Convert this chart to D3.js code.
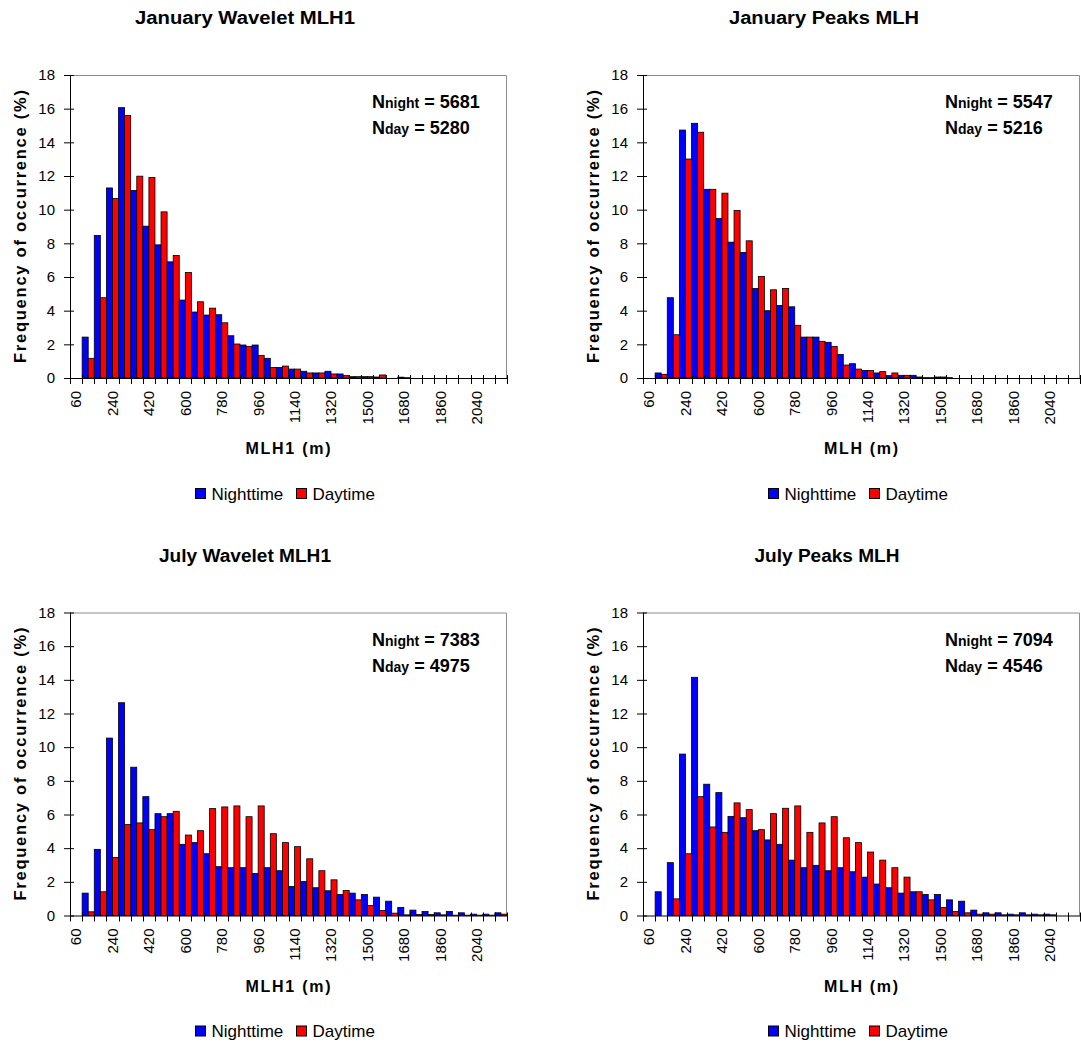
<!DOCTYPE html>
<html>
<head>
<meta charset="utf-8">
<script src="https://cdn.jsdelivr.net/npm/d3@7"></script>
<style>
  body { margin: 0; background: #fff; }
  svg { display: block; font-family: "Liberation Sans", Arial, sans-serif; }
</style>
</head>
<body>
<div id="chart"></div>
<script>
// MLH bin labels (m)
const categories = [60, 120, 180, 240, 300, 360, 420, 480, 540, 600, 660, 720,
  780, 840, 900, 960, 1020, 1080, 1140, 1200, 1260, 1320, 1380, 1440,
  1500, 1560, 1620, 1680, 1740, 1800, 1860, 1920, 1980, 2040, 2100, 2160];

const yTicks = [0, 2, 4, 6, 8, 10, 12, 14, 16, 18];

// January, wavelet MLH1
const janWaveletNight = [0, 2.43, 8.47, 11.29, 16.06, 11.14, 9.02, 7.91, 6.90, 4.63, 3.92, 3.74,
  3.76, 2.51, 1.96, 1.96, 1.17, 0.63, 0.53, 0.40, 0.30, 0.40, 0.24, 0.08,
  0.08, 0.06, 0, 0.05, 0, 0, 0, 0, 0, 0, 0, 0];
const janWaveletDay = [0, 1.17, 4.77, 10.66, 15.59, 11.99, 11.91, 9.87, 7.28, 6.27, 4.53, 4.15,
  3.28, 2.02, 1.88, 1.34, 0.63, 0.71, 0.53, 0.30, 0.30, 0.24, 0.14, 0.08,
  0.08, 0.18, 0, 0.02, 0, 0, 0, 0, 0, 0, 0, 0];

// January, peaks MLH
const janPeaksNight = [0, 0.30, 4.77, 14.73, 15.13, 11.21, 9.47, 8.07, 7.46, 5.32, 4.00, 4.31,
  4.23, 2.43, 2.43, 2.12, 1.40, 0.85, 0.45, 0.30, 0.14, 0.16, 0.16, 0.02,
  0.06, 0.02, 0, 0, 0, 0, 0, 0, 0, 0, 0, 0];
const janPeaksDay = [0, 0.22, 2.57, 13.01, 14.60, 11.21, 10.98, 9.95, 8.15, 6.03, 5.24, 5.32,
  3.13, 2.43, 2.18, 1.88, 0.77, 0.53, 0.45, 0.38, 0.30, 0.16, 0.06, 0.02,
  0.06, 0, 0, 0, 0, 0, 0, 0, 0, 0, 0, 0];

// July, wavelet MLH1
const julWaveletNight = [0, 1.33, 3.93, 10.54, 12.64, 8.81, 7.06, 6.05, 6.05, 4.23, 4.33, 3.67,
  2.90, 2.84, 2.84, 2.50, 2.84, 2.66, 1.73, 2.02, 1.65, 1.47, 1.25, 1.33,
  1.25, 1.09, 0.85, 0.48, 0.32, 0.24, 0.16, 0.24, 0.16, 0.08, 0.08, 0.16];
const julWaveletDay = [0, 0.22, 1.41, 3.45, 5.40, 5.50, 5.10, 5.87, 6.19, 4.78, 5.04, 6.35,
  6.45, 6.51, 5.87, 6.51, 4.86, 4.33, 4.09, 3.37, 2.66, 2.12, 1.49, 0.93,
  0.60, 0.30, 0.14, 0.04, 0.06, 0.06, 0.04, 0.02, 0.02, 0.02, 0.02, 0.08];

// July, peaks MLH
const julPeaksNight = [0, 1.41, 3.14, 9.59, 14.15, 7.80, 7.30, 5.89, 5.81, 5.04, 4.49, 4.23,
  3.29, 2.84, 2.98, 2.66, 2.84, 2.60, 2.28, 1.87, 1.65, 1.33, 1.41, 1.25,
  1.25, 0.93, 0.85, 0.32, 0.16, 0.16, 0.08, 0.16, 0.08, 0.08, 0, 0];
const julPeaksDay = [0, 0, 0.99, 3.67, 7.06, 5.26, 4.94, 6.69, 6.29, 5.10, 6.05, 6.37,
  6.51, 4.94, 5.50, 5.87, 4.62, 4.33, 3.77, 3.29, 2.84, 2.28, 1.41, 0.93,
  0.48, 0.24, 0.16, 0.08, 0.08, 0.04, 0.04, 0.04, 0.04, 0.04, 0, 0];

const panels = [
  { title: "January Wavelet MLH1", xTitle: "MLH1 (m)", night: janWaveletNight, day: janWaveletDay, nNight: 5681, nDay: 5280, left: 70, top: 75, titleX: 245, titleW: 220 },
  { title: "January Peaks MLH", xTitle: "MLH (m)", night: janPeaksNight, day: janPeaksDay, nNight: 5547, nDay: 5216, left: 643, top: 75, titleX: 824, titleW: 190 },
  { title: "July Wavelet MLH1", xTitle: "MLH1 (m)", night: julWaveletNight, day: julWaveletDay, nNight: 7383, nDay: 4975, left: 70, top: 612.5, titleX: 245, titleW: 172 },
  { title: "July Peaks MLH", xTitle: "MLH (m)", night: julPeaksNight, day: julPeaksDay, nNight: 7094, nDay: 4546, left: 643, top: 612.5, titleX: 827, titleW: 145 }
];

const width = 1081, height = 1043;
const plotW = 437, plotH = 303;
const nightColor = "#0000ff", dayColor = "#ff0000";

const svg = d3.select("#chart").append("svg")
  .attr("width", width)
  .attr("height", height);

panels.forEach(p => drawPanel(p));

function drawPanel(p) {
  const g = svg.append("g").attr("transform", `translate(${p.left},${p.top})`);

  const x = d3.scaleBand().domain(categories).range([0, plotW]).padding(0);
  const xs = d3.scaleBand().domain(["night", "day"]).range([0, x.bandwidth()]).padding(0);
  const y = d3.scaleLinear().domain([0, 18]).range([plotH, 0]);

  // plot frame (grey top/right)
  g.append("path")
    .attr("d", `M0.5,0.5H${plotW - 0.5}V${plotH}`)
    .attr("fill", "none")
    .attr("stroke", "#8c8c8c")
    .attr("stroke-width", 1);

  // bars
  const rows = categories.map((c, i) => ({ c, night: p.night[i], day: p.day[i] }));
  const grp = g.selectAll(".cat").data(rows).enter().append("g")
    .attr("transform", d => `translate(${x(d.c)},0)`);
  grp.selectAll("rect")
    .data(d => [{ key: "night", v: d.night }, { key: "day", v: d.day }].filter(e => e.v > 0))
    .enter().append("rect")
    .attr("x", d => xs(d.key))
    .attr("y", d => y(d.v))
    .attr("width", xs.bandwidth())
    .attr("height", d => y(0) - y(d.v))
    .attr("fill", d => d.key === "night" ? nightColor : dayColor)
    .attr("stroke", "#000")
    .attr("stroke-width", 0.8);

  // y axis
  const yAxis = g.append("g").call(d3.axisLeft(y).tickValues(yTicks).tickSize(6).tickPadding(9));
  yAxis.select(".domain").attr("stroke", "#000").attr("d", `M0.5,0V${plotH}`);
  yAxis.selectAll(".tick line").attr("x1", 4).attr("x2", -6);
  yAxis.selectAll(".tick text").attr("font-size", 15).attr("fill", "#000")
    .attr("font-family", "Liberation Sans, Arial, sans-serif");

  // x axis
  const xAxis = g.append("g").attr("transform", `translate(0,${plotH})`)
    .call(d3.axisBottom(x).tickSize(0).tickFormat((d, i) => i % 3 === 0 ? d : ""));
  xAxis.select(".domain").attr("d", `M0,0.5H${plotW}`).attr("stroke", "#000");
  xAxis.selectAll(".tick text")
    .attr("font-size", 15).attr("fill", "#000")
    .attr("font-family", "Liberation Sans, Arial, sans-serif")
    .attr("transform", "rotate(-90)")
    .attr("text-anchor", "end")
    .attr("x", -13).attr("y", 0).attr("dy", "0.36em");
  const edges = categories.map(c => x(c)).concat([plotW]);
  xAxis.selectAll(".edge").data(edges).enter().append("line")
    .attr("x1", d => Math.round(d) + 0.5).attr("x2", d => Math.round(d) + 0.5)
    .attr("y1", -3).attr("y2", 6)
    .attr("stroke", "#000");

  // titles
  svg.append("text")
    .attr("x", p.titleX).attr("y", p.top - 51)
    .attr("text-anchor", "middle")
    .attr("font-size", 18).attr("font-weight", "bold")
    .attr("textLength", p.titleW).attr("lengthAdjust", "spacingAndGlyphs")
    .text(p.title);

  svg.append("text")
    .attr("transform", `translate(${p.left - 44},${p.top + plotH / 2}) rotate(-90)`)
    .attr("text-anchor", "middle")
    .attr("font-size", 16.5).attr("font-weight", "bold")
    .attr("textLength", 273).attr("lengthAdjust", "spacing")
    .text("Frequency of occurrence (%)");

  svg.append("text")
    .attr("x", p.left + 218).attr("y", p.top + plotH + 76)
    .attr("text-anchor", "middle")
    .attr("font-size", 16).attr("font-weight", "bold")
    .attr("textLength", p.xTitle === "MLH1 (m)" ? 85 : 74).attr("lengthAdjust", "spacing")
    .text(p.xTitle);

  // N counts
  const nText = [["night", p.nNight, 33], ["day", p.nDay, 59]];
  nText.forEach(([sub, n, dy]) => {
    const t = g.append("text")
      .attr("x", 302).attr("y", dy)
      .attr("font-weight", "bold").attr("font-size", 18);
    t.append("tspan").text("N");
    t.append("tspan").attr("font-size", 14).text(sub);
    t.append("tspan").text(` = ${n}`);
  });

  // legend
  const lg = g.append("g").attr("transform", `translate(125.5,${plotH + 110.5})`);
  const items = [["Nighttime", nightColor, 0], ["Daytime", dayColor, 101]];
  items.forEach(([label, color, dx]) => {
    lg.append("rect").attr("x", dx).attr("y", 0).attr("width", 10).attr("height", 10)
      .attr("fill", color).attr("stroke", "#000").attr("stroke-width", 1);
    lg.append("text").attr("x", dx + 16).attr("y", 11)
      .attr("font-size", 17).text(label);
  });
}
</script>
</body>
</html>
